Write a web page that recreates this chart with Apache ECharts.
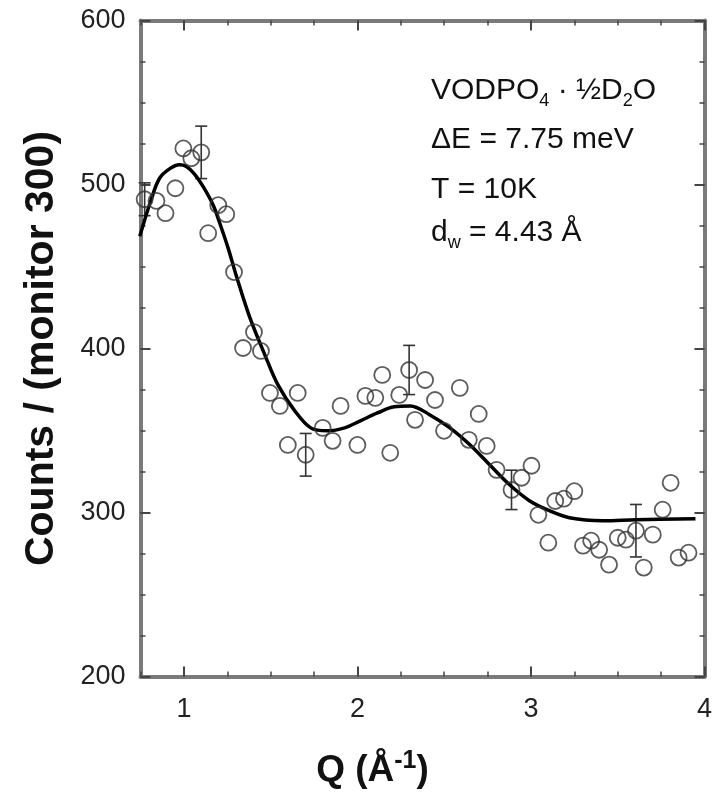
<!DOCTYPE html>
<html>
<head>
<meta charset="utf-8">
<script src="https://cdn.jsdelivr.net/npm/echarts@6/dist/echarts.min.js"></script>
<style>
html,body{margin:0;padding:0;background:#fff;}
#chart{width:715px;height:808px;}
</style>
</head>
<body>
<div id="chart"></div>
<script>
// ---- data ----
const qData = [0.774,0.842,0.894,0.951,0.997,1.043,1.100,1.140,1.198,1.244,1.289,1.341,1.404,1.444,1.496,1.553,1.599,1.656,1.702,1.80,1.857,1.903,2.0,2.046,2.103,2.143,2.189,2.241,2.298,2.332,2.390,2.447,2.499,2.590,2.642,2.699,2.745,2.802,2.888,2.946,3.003,3.043,3.10,3.14,3.19,3.25,3.30,3.347,3.393,3.45,3.50,3.547,3.605,3.65,3.702,3.759,3.805,3.851,3.908];
const countData = [491,490,482.5,497.7,522,516,519.6,470.3,487.4,481.9,446.6,400.3,410,398.5,372.9,365,341.2,372.9,335.2,351.6,343.7,365,341.2,371.1,369.9,383.9,336.4,371.7,386.9,356.5,380.8,368.6,349.8,376,344.3,360.1,340.6,326,313.8,321.2,328.5,298.6,281.6,307,308.4,313,279.8,282.8,277.3,268.2,284.6,283.4,288.9,266.4,286.5,301.7,318.1,272.5,275.5];
const errQ = [0.774,1.100,1.702,2.298,2.888,3.605];
const errVal = [491,519.6,335.2,386.9,313.8,288.9];
const errSize = [10,16,13,15,12,16];
const fitQ = [0.746,0.814,0.860,0.917,0.974,1.014,1.06,1.112,1.169,1.203,1.255,1.301,1.375,1.467,1.542,1.639,1.731,1.828,1.926,2.017,2.115,2.212,2.304,2.418,2.533,2.648,2.762,2.877,2.991,3.106,3.221,3.415,3.605,3.948];
const fitVal = [468.5,491.6,503.8,509.5,512,511,506.5,498.5,487.4,477.6,461.2,444.7,420.4,396,377.8,362,351.6,349.8,351.6,355.9,360.7,364.5,365,359.5,351.6,341.3,329.1,316.9,307.2,301.1,296.8,295,295.6,296.2];
const xTickLabels = ['1','2','3','4'];
const xMajorTicks = [1,2,3,4];
const yTickLabels = ['200','300','400','500','600'];
const annotationLines = ['VODPO4 · ½D2O','ΔE = 7.75 meV','T = 10K','dw = 4.43 Å'];

const chart = echarts.init(document.getElementById('chart'), null, {renderer:'canvas'});
const FONT = 'Liberation Sans, Arial, sans-serif';
const AX = '#7a7a7a';
const TK = '#444';

function baseX(extra){
  return Object.assign({
    type:'value', min:0.75, max:4, interval:0.25, gridIndex:0,
    axisLine:{show:true, onZero:false, lineStyle:{color:AX, width:4}},
    axisTick:{show:true, inside:true, length:5, lineStyle:{color:TK, width:1.5}},
    axisLabel:{show:false},
    splitLine:{show:false}
  }, extra);
}
function baseY(extra){
  return Object.assign({
    type:'value', min:200, max:600, interval:25, gridIndex:0,
    axisLine:{show:true, onZero:false, lineStyle:{color:AX, width:4}},
    axisTick:{show:true, inside:true, length:5, lineStyle:{color:TK, width:1.5}},
    axisLabel:{show:false},
    splitLine:{show:false}
  }, extra);
}
const majorX = {show:true, inside:true, length:10, customValues:xMajorTicks, lineStyle:{color:TK, width:2}};
const majorY = {show:true, inside:true, length:10, lineStyle:{color:TK, width:2}};

const option = {
  animation:false,
  backgroundColor:'#fff',
  grid:{left:140.5, right:5.5, top:20.5, bottom:131.5},
  xAxis:[
    baseX({position:'bottom',
      axisLabel:{show:true, margin:20, fontSize:27, color:'#222', fontFamily:FONT,
        formatter:v=>{const i=xTickLabels.indexOf(String(Math.round(v*1000)/1000)); return i>=0?xTickLabels[i]:'';}},
      name:'{a|Q (Å}{s|-1}{a|)}', nameLocation:'middle', nameGap:72,
      nameTextStyle:{padding:[0,100,0,0], rich:{
        a:{fontSize:37, fontWeight:'bold', fontFamily:FONT, color:'#111'},
        s:{fontSize:25, fontWeight:'bold', fontFamily:FONT, color:'#111', padding:[0,0,20,0]}}}
    }),
    baseX({position:'bottom', axisLine:{show:false}, axisTick:majorX}),
    baseX({position:'top'}),
    baseX({position:'top', axisLine:{show:false}, axisTick:majorX})
  ],
  yAxis:[
    baseY({position:'left',
      axisLabel:{show:true, margin:15, fontSize:27, color:'#222', fontFamily:FONT,
        formatter:v=>{const i=yTickLabels.indexOf(String(Math.round(v))); return i>=0?yTickLabels[i]:'';}},
      name:'Counts / (monitor 300)', nameLocation:'middle', nameGap:78, nameRotate:90,
      nameTextStyle:{fontSize:41, fontWeight:'bold', fontFamily:FONT, color:'#111'}
    }),
    baseY({position:'left', interval:100, axisLine:{show:false}, axisTick:majorY}),
    baseY({position:'right'}),
    baseY({position:'right', interval:100, axisLine:{show:false}, axisTick:majorY})
  ],
  series:[
    {
      type:'custom', xAxisIndex:0, yAxisIndex:0, z:3,
      data: errQ.map((q,i)=>[q, errVal[i], errSize[i]]),
      renderItem:function(params, api){
        const x=api.value(0), y=api.value(1), e=api.value(2);
        const top=api.coord([x,y+e]), bot=api.coord([x,y-e]);
        const w=6;
        const st={stroke:'#333', lineWidth:1.6};
        return {type:'group', children:[
          {type:'line', shape:{x1:top[0],y1:top[1],x2:bot[0],y2:bot[1]}, style:st},
          {type:'line', shape:{x1:top[0]-w,y1:top[1],x2:top[0]+w,y2:top[1]}, style:st},
          {type:'line', shape:{x1:bot[0]-w,y1:bot[1],x2:bot[0]+w,y2:bot[1]}, style:st}
        ]};
      }
    },
    {
      type:'line', xAxisIndex:0, yAxisIndex:0, z:4,
      data: fitQ.map((q,i)=>[q, fitVal[i]]),
      smooth:0.35, showSymbol:false, symbol:'none',
      lineStyle:{color:'#000', width:3.5}
    },
    {
      type:'scatter', xAxisIndex:0, yAxisIndex:0, z:5,
      data: qData.map((q,i)=>[q, countData[i]]),
      symbol:'circle', symbolSize:16,
      itemStyle:{color:'rgba(0,0,0,0)', borderColor:'#333', borderWidth:1.8}
    }
  ],
  graphic:[
    {type:'text', left:431, top:76, style:{
      text:'{a|VODPO}{s|4}{a| · ½D}{s|2}{a|O}',
      rich:{a:{fontSize:30, fontFamily:FONT, fill:'#111'}, s:{fontSize:18, fontFamily:FONT, fill:'#111', padding:[20,0,0,0]}}}},
    {type:'text', left:431, top:125, style:{text:annotationLines[1], fontSize:30, fontFamily:FONT, fill:'#111'}},
    {type:'text', left:431, top:175, style:{text:annotationLines[2], fontSize:30, fontFamily:FONT, fill:'#111'}},
    {type:'text', left:431, top:218, style:{
      text:'{a|d}{s|w}{a| = 4.43 Å}',
      rich:{a:{fontSize:30, fontFamily:FONT, fill:'#111'}, s:{fontSize:18, fontFamily:FONT, fill:'#111', padding:[20,0,0,0]}}}}
  ]
};
chart.setOption(option);
</script>
</body>
</html>
